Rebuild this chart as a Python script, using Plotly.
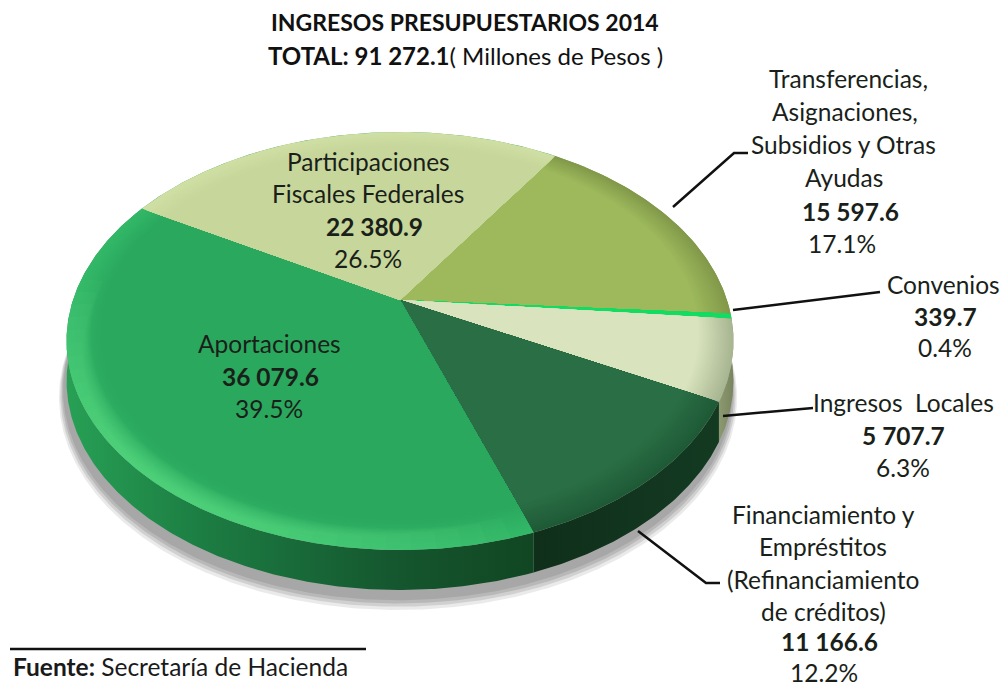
import numpy as np
import plotly.graph_objects as go

# ---------- data (clockwise from the top right) ----------
CATEGORIES = ["Transferencias", "Convenios", "Ingresos Locales",
              "Financiamiento", "Aportaciones", "Participaciones"]
AMOUNTS = ["15 597.6", "339.7", "5 707.7", "11 166.6", "36 079.6", "22 380.9"]
PERCENTS = [17.1, 0.4, 6.3, 12.2, 39.5, 26.5]

TOP_COLORS = ["#9DB95C", "#12DC62", "#D9E4BE", "#2A6E45", "#2AA85E", "#C7D69B"]
RIM_COLORS = ["#82994A", "#12DC62", "#A9B692", "#1F5A37", "#33B868", "#D0DFA4"]
WALL_STOPS = [[[0, "#7C8F4A"], [1, "#7C8F4A"]],
              [[0, "#7C8F4A"], [1, "#7C8F4A"]],
              [[0, "#8D9A70"], [1, "#77845E"]],
              [[0, "#0F2F1B"], [1, "#143A22"]],
              [[0, "#27A055"], [0.3, "#1C7C42"], [0.7, "#15572F"], [1, "#114623"]],
              [[0, "#27A055"], [1, "#27A055"]]]

TITLE_LINES = ["<b>INGRESOS PRESUPUESTARIOS 2014</b>",
               "<b>TOTAL: 91 272.1</b>( Millones de Pesos )"]
SOURCE = "<b>Fuente:</b> Secretaría de Hacienda"

LABELS = [
    ("Transferencias,", 848, 78), ("Asignaciones,", 845, 111), ("Subsidios y Otras", 843, 144),
    ("Ayudas", 844, 177), ("<b>15 597.6</b>", 850, 211), ("17.1%", 842, 243),
    ("Convenios", 943, 284), ("<b>339.7</b>", 945, 316), ("0.4%", 945, 347),
    ("Ingresos  Locales", 903, 402), ("<b>5 707.7</b>", 903, 435), ("6.3%", 903, 467),
    ("Financiamiento y", 823, 514), ("Empréstitos", 823, 546), ("(Refinanciamiento", 823, 579),
    ("de créditos)", 823, 611), ("<b>11 166.6</b>", 829, 641), ("12.2%", 824, 672),
    ("Aportaciones", 269, 343), ("<b>36 079.6</b>", 270, 376), ("39.5%", 269, 408),
    ("Participaciones", 368, 161), ("Fiscales Federales", 368, 193),
    ("<b>22 380.9</b>", 374, 226), ("26.5%", 368, 258),
]
LEADERS = [
    [(673, 207), (734, 153), (748, 153)],
    [(733, 310), (880, 292)],
    [(723, 416), (813, 408)],
    [(638, 531), (706, 583), (720, 583)],
]

# ---------- pie geometry ----------
CX, CY = 400, 300
A, B, K = 327, 201, 0.196      # perspective projection of a tilted disc
DEPTH = 40
START = 56.5


def project(theta_deg, rho=1.0, dy=0.0):
    t = np.radians(theta_deg)
    u, v = rho * np.cos(t), rho * np.sin(t)
    w = 1 + K * v
    return CX + A * u / w, CY - B * v / w + dy


def arc(t0, t1, rho=1.0, dy=0.0):
    n = max(3, int(abs(t1 - t0) * 2))
    return project(np.linspace(t0, t1, n), rho, dy)


def mix(c1, c2, f):
    a = [int(c1[i:i + 2], 16) for i in (1, 3, 5)]
    b = [int(c2[i:i + 2], 16) for i in (1, 3, 5)]
    return "#%02x%02x%02x" % tuple(round(p + (q - p) * f) for p, q in zip(a, b))


total = sum(PERCENTS)
edges = [START]
for p in PERCENTS:
    edges.append(edges[-1] - p / total * 360)

fig = go.Figure()


def poly(x, y, color, stops=None):
    kw = dict(x=x, y=y, mode="lines", fill="toself", hoverinfo="skip", showlegend=False,
              line=dict(width=0, color=color))
    if stops:
        kw["fillgradient"] = dict(type="horizontal", colorscale=stops)
    else:
        kw["fillcolor"] = color
    fig.add_trace(go.Scatter(**kw))


# soft drop shadow
for rho, grow, col in [(1.016, 15, "rgba(170,170,170,0.25)"), (1.012, 13, "rgba(170,170,170,0.4)"),
                       (1.008, 11, "rgba(168,168,168,0.6)"), (1.004, 9, "rgba(165,165,165,0.95)")]:
    x, y = arc(0, 360, rho, DEPTH + grow)
    poly(list(x - 2), list(y), col)

# side wall
for i in [5, 0, 1, 2, 3, 4]:
    t0, t1 = edges[i], edges[i + 1]
    xt, yt = arc(t0, t1)
    xb, yb = arc(t0, t1, 1.0, DEPTH)
    poly(list(xt) + list(xb[::-1]), list(yt) + list(yb[::-1]), WALL_STOPS[i][0][1],
         stops=WALL_STOPS[i])

# top surface: nested sectors give the bevelled rim
RHOS = np.linspace(1.0, 0.90, 16)
for i in range(len(PERCENTS)):
    t0, t1 = edges[i], edges[i + 1]
    for j, rho in enumerate(RHOS):
        col = mix(RIM_COLORS[i], TOP_COLORS[i], j / (len(RHOS) - 1))
        xa, ya = arc(t0, t1, rho)
        poly([CX] + list(xa) + [CX], [CY] + list(ya) + [CY], col)

# soft highlight on the lower left of the largest slice
HIGHLIGHT_AT = -130
for k in range(14):
    half = 56 - 3.6 * k
    inner = 0.93 + 0.0045 * k
    xo, yo = arc(HIGHLIGHT_AT - half, HIGHLIGHT_AT + half, 1.0)
    xi, yi = arc(HIGHLIGHT_AT + half, HIGHLIGHT_AT - half, inner)
    poly(list(xo) + list(xi), list(yo) + list(yi), "rgba(110,235,150,0.055)")

# leader lines
for pts in LEADERS:
    fig.add_trace(go.Scatter(x=[p[0] for p in pts], y=[p[1] for p in pts], mode="lines",
                             hoverinfo="skip", showlegend=False,
                             line=dict(color="#111111", width=2.5)))
fig.add_trace(go.Scatter(x=[10, 366], y=[649, 649], mode="lines", hoverinfo="skip", showlegend=False,
                         line=dict(color="#111111", width=2.5)))

FONT = "Lato, 'Open Sans', sans-serif"
ann = []
for text, x, y in LABELS:
    ann.append(dict(x=x, y=y, text=text, xref="x", yref="y", showarrow=False, xanchor="center",
                    yanchor="middle", font=dict(family=FONT, size=24.5, color="#1a1f1a")))
for text, y, size in zip(TITLE_LINES, [22, 55], [23, 24]):
    ann.append(dict(x=465, y=y, text=text, xref="x", yref="y", showarrow=False, xanchor="center",
                    yanchor="middle", font=dict(family=FONT, size=size, color="#111111")))
ann.append(dict(x=11, y=666, text=SOURCE, xref="x", yref="y", showarrow=False, xanchor="left",
                yanchor="middle", font=dict(family=FONT, size=24.5, color="#1a1a1a")))

fig.update_layout(
    width=1003, height=687, margin=dict(l=0, r=0, t=0, b=0),
    paper_bgcolor="white", plot_bgcolor="white", annotations=ann,
    xaxis=dict(range=[0, 1003], visible=False, fixedrange=True),
    yaxis=dict(range=[687, 0], visible=False, fixedrange=True),
)
fig.write_html("out.html", config={"displayModeBar": False},
               post_script="document.body.style.margin='0';document.body.style.overflow='hidden';")
